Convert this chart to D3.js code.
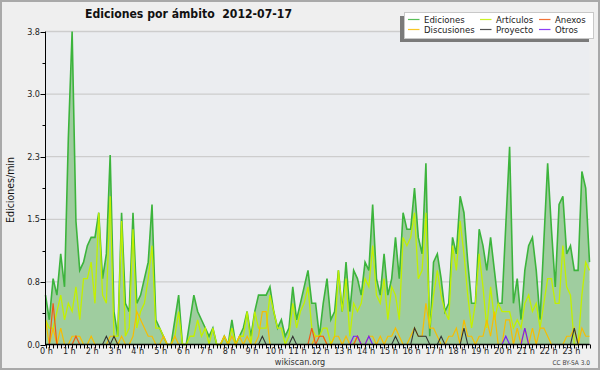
<!DOCTYPE html>
<meta charset="utf-8">
<style>
body { margin: 0; background: #fff; }
svg { display: block; font-family: "DejaVu Sans Condensed", "DejaVu Sans", sans-serif; }
.axis-label { font-size: 9px; fill: #222; }
.legend-label { font-size: 9.5px; fill: #222; }
</style>
<svg width="600" height="370"></svg>
<script src="https://cdn.jsdelivr.net/npm/d3@7"></script>
<script>
// one value every 10 minutes, 0h00 .. 23h50 (edits per minute)
var hourLabels = ["0 h","1 h","2 h","3 h","4 h","5 h","6 h","7 h","8 h","9 h","10 h","11 h",
                  "12 h","13 h","14 h","15 h","16 h","17 h","18 h","19 h","20 h","21 h","22 h","23 h"];
var yTickValues = [0, 0.76, 1.52, 2.28, 3.04, 3.8];
var yTickLabels = ["0.0", "0.8", "1.5", "2.3", "3.0", "3.8"];

var ediciones = [
  0.6,0.3,0.8,0.6,1.1,0.7, 2.5,3.8,1.5,0.9,1.0,1.2, 1.3,1.3,1.6,0.8,1.1,2.3, 0.4,0.1,1.6,0.5,0.4,1.6,
  0.5,0.6,0.8,1.0,1.7,0.3, 0.2,0.1,0,0,0.3,0.6, 0,0,0.3,0.6,0.4,0.3, 0.2,0.1,0.2,0,0,0.1,
  0,0.3,0,0.1,0.2,0.4, 0.1,0.4,0.6,0.6,0.6,0.7, 0.4,0.2,0.3,0.1,0.2,0.7, 0.3,0.5,0.7,0.9,0.5,0.5,
  0.1,0.5,0.8,0.3,0.4,0.9, 0.4,1.0,0.4,0.9,0.8,0.6, 1.0,0.9,1.7,0.8,0.6,1.1, 0.6,0.8,1.3,0.8,1.6,1.4,
  1.4,1.9,1.3,1.1,2.2,0.1, 1.0,1.1,0.8,0.4,0.5,1.3, 1.1,1.8,1.6,1.0,0.5,0.5, 1.4,1.2,0.9,1.3,0.9,0.5,
  0.5,1.45,2.4,0.5,0.8,0.3, 0.9,1.2,1.3,0.9,0.3,1.25, 2.2,1.4,0.7,1.7,1.8,1.1, 1.2,0.9,0.9,2.1,1.9,1.0
];
var articulos = [
  0.3,0.2,0.2,0.4,0.6,0.3, 0.5,0.4,0.7,0.3,0.8,0.8, 1.0,0.5,1.6,0.6,0.5,1.8, 0.1,0.1,1.5,0.1,0.2,1.4,
  0.2,0.4,0.5,0.8,1.2,0.2, 0.2,0.1,0,0,0.1,0.4, 0,0,0.1,0.1,0.3,0.1, 0.2,0,0.2,0,0,0.1,
  0,0.2,0,0.1,0.1,0.4, 0,0.4,0.2,0.2,0.2,0.6, 0.4,0.2,0.2,0,0.1,0.5, 0.2,0.4,0.5,0.7,0.2,0.1,
  0.1,0.2,0.2,0,0.1,0.9, 0.4,0.8,0.1,0.5,0.4,0.5, 0.8,0.7,1.2,0.6,0.5,0.8, 0.3,0.7,0.6,0.3,1.3,1.2,
  1.3,1.6,0.8,0.9,1.6,0.2, 0.6,0.9,0.6,0.4,0.3,1.2, 0.9,1.5,1.1,0.6,0.2,0.5, 1.1,0.7,0.2,0.7,0.3,0.5,
  0.4,0.4,0.4,0.2,0.3,0.2, 0.5,0.6,0.4,0.5,0.2,0.5, 0.8,0.8,0.5,0.5,1.2,0.7, 0.6,0,0,0.6,1.0,0.9
];
var discusiones = [
  0.3,0,0.2,0,0.2,0, 0,0.1,0.1,0.1,0,0, 0.1,0,0,0,0,0.1, 0.1,0,0.1,0,0,0.1,
  0.4,0.3,0.2,0.1,0.1,0, 0,0.1,0,0,0.1,0, 0,0,0,0,0,0, 0,0,0,0,0,0.1,
  0,0.1,0,0.1,0,0.1, 0,0,0.1,0.4,0.4,0, 0,0,0,0,0,0, 0,0,0,0,0,0.1,
  0.1,0.1,0,0,0.1,0.1, 0,0.1,0,0,0.1,0, 0,0.1,0.1,0,0.1,0, 0.1,0.1,0.2,0.1,0,0,
  0.1,0.2,0.1,0.1,0.5,0.2, 0.2,0.1,0,0,0.1,0.1, 0.2,0,0.3,0.1,0.1,0, 0.1,0.1,0.3,0.1,0.4,0,
  0,0.3,0.3,0,0.2,0, 0.2,0,0.2,0,0.2,0.2, 0.1,0,0,0,0,0.1, 0.1,0.2,0,0.2,0.1,0.1
];
var anexos = [
  0,0,0.5,0,0,0, 0,0,0.1,0,0,0, 0,0,0,0,0,0, 0,0,0,0,0,0,
  0,0,0,0,0,0, 0,0,0,0,0,0, 0,0,0,0,0,0, 0,0,0,0,0,0,
  0,0,0,0,0,0, 0,0,0,0,0,0, 0,0,0,0,0,0, 0,0,0,0,0.2,0,
  0.1,0.1,0,0,0,0, 0,0,0,0,0.1,0, 0,0,0,0,0,0, 0,0,0,0,0,0,
  0,0,0,0,0,0, 0,0,0,0,0,0, 0,0,0,0,0,0, 0,0,0,0,0,0,
  0,0,0,0,0,0, 0,0,0,0,0,0, 0,0,0,0,0,0, 0,0,0,0,0,0
];
var proyecto = [
  0,0,0,0,0,0, 0,0,0,0,0,0, 0,0,0,0,0.1,0, 0.1,0,0,0,0,0,
  0,0,0,0,0,0, 0,0,0,0,0,0, 0,0,0,0,0,0, 0,0,0,0,0,0,
  0,0,0,0,0,0, 0,0,0,0.1,0,0, 0,0,0,0,0,0.1, 0,0,0,0,0,0,
  0,0,0,0,0,0, 0,0,0,0,0,0, 0,0,0,0,0,0, 0,0,0.1,0,0,0,
  0,0.2,0.1,0.1,0.1,0, 0,0,0.1,0,0,0, 0,0,0.2,0,0,0, 0,0,0,0,0,0,
  0,0,0,0,0,0, 0,0,0,0,0,0, 0,0,0,0,0,0, 0,0.2,0,0,0,0
];
var otros = [
  0,0,0,0,0,0, 0,0,0,0,0,0, 0,0,0,0,0,0, 0,0,0,0,0,0,
  0,0,0,0,0,0, 0,0,0,0,0,0, 0,0,0,0,0,0, 0,0,0,0,0,0,
  0,0,0,0,0,0, 0,0,0,0,0,0, 0,0,0,0,0,0, 0,0,0,0,0,0,
  0,0,0,0,0,0, 0,0,0,0.1,0.1,0, 0,0.1,0,0,0,0, 0,0,0,0,0,0,
  0,0,0,0,0,0, 0,0,0,0,0,0, 0,0,0,0,0,0, 0,0,0,0,0,0,
  0,0.1,0,0,0,0, 0.2,0,0,0,0,0, 0,0,0,0,0,0, 0,0,0,0,0,0
];

var series = [
  {name: "Ediciones",   values: ediciones,   color: "#3cb43c", width: 1.6},
  {name: "Artículos",   values: articulos,   color: "#c2f000", width: 1.3},
  {name: "Discusiones", values: discusiones, color: "#f7bd00", width: 1.2},
  {name: "Anexos",      values: anexos,      color: "#f05a14", width: 1.2},
  {name: "Proyecto",    values: proyecto,    color: "#333333", width: 1.1},
  {name: "Otros",       values: otros,       color: "#7a1ef5", width: 1.2}
];
// legend order: 3 columns, 2 rows
var legendOrder = ["Ediciones", "Artículos", "Anexos", "Discusiones", "Proyecto", "Otros"];

var svg = d3.select("svg"),
    width = +svg.attr("width"),
    height = +svg.attr("height");

var plot = {left: 45.5, right: 589.5, top: 31.5, bottom: 344.5};

var x = d3.scaleLinear().domain([0, ediciones.length - 1]).range([plot.left, plot.right]);
var y = d3.scaleLinear().domain([0, 3.8]).range([plot.bottom, plot.top]);

// background + frame
svg.append("rect").attr("width", width).attr("height", height).attr("fill", "#efefef");
svg.append("rect").attr("x", 1).attr("y", 1).attr("width", width - 2).attr("height", height - 2)
   .attr("fill", "none").attr("stroke", "#a9a9a9").attr("stroke-width", 2);
svg.append("rect")
   .attr("x", plot.left).attr("y", plot.top)
   .attr("width", plot.right - plot.left).attr("height", plot.bottom - plot.top)
   .attr("fill", "#ebedf0");

// grid
svg.append("g").selectAll("line")
   .data(yTickValues.slice(1))
   .enter().append("line")
     .attr("x1", plot.left).attr("x2", plot.right)
     .attr("y1", d => y(d)).attr("y2", d => y(d))
     .attr("stroke", "#cdcdcd").attr("stroke-width", 1.3);

// title
svg.append("text")
   .attr("x", 85).attr("y", 18)
   .attr("font-size", 13).attr("font-weight", "bold").attr("fill", "#111")
   .attr("textLength", 207).attr("lengthAdjust", "spacingAndGlyphs")
   .attr("xml:space", "preserve")
   .text("Ediciones por ámbito  2012-07-17");

// series
var area = d3.area().x((d, i) => x(i)).y0(y(0)).y1(d => y(d));
var line = d3.line().x((d, i) => x(i)).y(d => y(d));

svg.append("path")
   .datum(ediciones)
   .attr("d", area)
   .attr("fill", "#9fcd9f");

svg.append("g").selectAll("path")
   .data(series)
   .enter().append("path")
     .attr("d", s => line(s.values))
     .attr("fill", "none")
     .attr("stroke", s => s.color)
     .attr("stroke-width", s => s.width)
     .attr("stroke-linejoin", "miter");

// y axis
var yAxis = svg.append("g");
yAxis.append("line")
     .attr("x1", plot.left).attr("x2", plot.left)
     .attr("y1", plot.top).attr("y2", plot.bottom + 1)
     .attr("stroke", "#000");
yAxis.selectAll(".minor")
     .data(d3.range(0, 11).map(k => k * 0.38))
     .enter().append("line")
       .attr("x1", (d, k) => k % 2 ? plot.left - 3 : plot.left - 5)
       .attr("x2", plot.left)
       .attr("y1", d => Math.round(y(d)) + 0.5).attr("y2", d => Math.round(y(d)) + 0.5)
       .attr("stroke", "#000");
yAxis.selectAll("text")
     .data(yTickValues)
     .enter().append("text")
       .attr("class", "axis-label")
       .attr("x", plot.left - 5.5)
       .attr("y", d => y(d) + 3)
       .attr("text-anchor", "end")
       .text((d, k) => yTickLabels[k]);

svg.append("text")
   .attr("transform", "translate(14," + ((plot.top + plot.bottom) / 2 + 2) + ") rotate(-90)")
   .attr("text-anchor", "middle")
   .attr("font-size", 10.5).attr("fill", "#111")
   .text("Ediciones/min");

// x axis
var xAxis = svg.append("g");
xAxis.append("line")
     .attr("x1", plot.left).attr("x2", plot.right)
     .attr("y1", plot.bottom).attr("y2", plot.bottom)
     .attr("stroke", "#000").attr("stroke-width", 1.5);
xAxis.selectAll(".tick")
     .data(d3.range(ediciones.length))
     .enter().append("line")
       .attr("x1", i => Math.round(x(i)) + 0.5).attr("x2", i => Math.round(x(i)) + 0.5)
       .attr("y1", plot.bottom).attr("y2", plot.bottom + 4)
       .attr("stroke", "#000");
xAxis.selectAll("text")
     .data(hourLabels)
     .enter().append("text")
       .attr("class", "axis-label")
       .attr("x", (d, h) => x(h * 6) + 1)
       .attr("y", 354)
       .attr("text-anchor", "middle")
       .attr("xml:space", "preserve")
       .text(d => d);

svg.append("text")
   .attr("x", 300).attr("y", 364.5)
   .attr("text-anchor", "middle")
   .attr("font-size", 9).attr("fill", "#333")
   .text("wikiscan.org");
svg.append("text")
   .attr("x", 590).attr("y", 364.5)
   .attr("text-anchor", "end")
   .attr("font-size", 6.5).attr("fill", "#444")
   .text("CC BY-SA 3.0");

// legend
var legend = svg.append("g").attr("transform", "translate(404,12)");
legend.append("rect")
      .attr("x", -4).attr("y", 4).attr("width", 189).attr("height", 26)
      .attr("fill", "#7a7a7a");
legend.append("rect")
      .attr("x", 0.5).attr("y", 0.5).attr("width", 189).attr("height", 26)
      .attr("fill", "#fff").attr("stroke", "#c8c8c8");
var colX = [4, 76, 135];
var items = legend.selectAll(".item")
      .data(legendOrder.map(n => series.find(s => s.name == n)))
      .enter().append("g")
        .attr("transform", (s, k) => "translate(" + colX[k % 3] + "," + (k < 3 ? 7.5 : 17.5) + ")");
items.append("line")
     .attr("x1", 0).attr("x2", 11.5)
     .attr("stroke", s => s.color).attr("stroke-opacity", 0.85)
     .attr("stroke-width", 1.2);
items.append("text")
     .attr("class", "legend-label")
     .attr("x", 16).attr("y", 3.5)
     .text(s => s.name);
</script>
